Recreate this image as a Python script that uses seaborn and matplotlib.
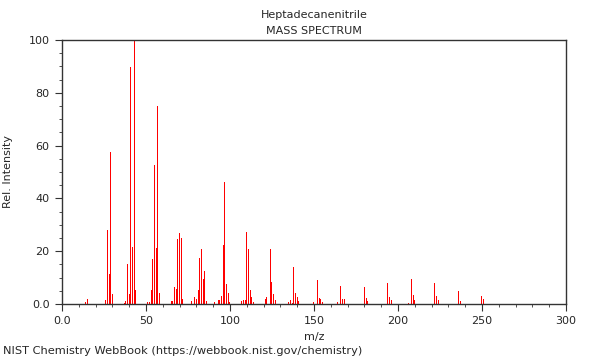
import matplotlib
matplotlib.use("Agg")
import matplotlib.pyplot as plt
import seaborn as sns
from matplotlib.ticker import MultipleLocator

# Peaks (m/z, relative intensity)
mz = [14, 15, 26, 27, 28, 29, 30, 37, 38, 39, 40, 41, 42, 43, 44,
      51, 52, 53, 54, 55, 56, 57, 58, 65, 66, 67, 68, 69, 70, 71, 72,
      77, 79, 80, 81, 82, 83, 84, 85, 86, 91, 93, 94, 95, 96, 97, 98, 99, 100,
      107, 108, 109, 110, 111, 112, 113, 114, 121, 122, 124, 125, 126, 127,
      135, 136, 137, 138, 139, 140, 141, 150, 152, 153, 154, 155,
      164, 166, 167, 168, 180, 181, 182, 194, 195, 196,
      206, 208, 209, 210, 222, 223, 224, 236, 237, 250, 251]
intensity = [0.6, 2.0, 1.5, 28.0, 11.4, 57.7, 3.8, 0.5, 1.0, 15.2, 3.8, 89.6, 21.6, 100.0, 5.3,
             0.8, 0.8, 5.3, 17.0, 52.8, 21.2, 75.0, 4.3, 1.0, 1.2, 6.6, 5.8, 24.6, 26.8, 25.1, 1.8,
             1.0, 2.8, 1.8, 5.3, 17.5, 21.0, 9.6, 12.6, 1.0, 0.8, 1.5, 1.5, 3.0, 22.2, 46.3, 7.4, 4.3, 0.8,
             1.0, 1.6, 1.5, 27.3, 21.0, 5.3, 2.8, 0.8, 1.7, 2.8, 20.7, 8.3, 3.7, 1.6,
             0.9, 1.5, 0.5, 14.0, 4.3, 2.7, 1.0, 0.7, 9.0, 2.3, 2.0, 0.7,
             0.8, 7.0, 2.0, 1.7, 6.4, 2.3, 1.2, 8.0, 2.8, 1.5,
             0.3, 9.5, 3.4, 1.4, 8.0, 3.0, 1.4, 5.0, 1.2, 3.0, 1.8]

xtick_vals = [0, 50, 100, 150, 200, 250, 300]
xtick_text = ["0.0", "50", "100", "150", "200", "250", "300"]
ytick_vals = [0, 20, 40, 60, 80, 100]
ytick_text = ["0.0", "20", "40", "60", "80", "100"]

sns.set_style("ticks")
plt.rcParams["font.family"] = ["DejaVu Sans"]
plt.rcParams["font.size"] = 8

fig, ax = plt.subplots(figsize=(6, 3.6), dpi=100)
fig.subplots_adjust(left=0.1033, right=0.9433, top=0.8889, bottom=0.1556)

sns.barplot(x=mz, y=intensity, native_scale=True, color="red",
            width=0.6, linewidth=0, saturation=1, ax=ax)

ax.set_xlim(0, 300)
ax.set_ylim(0, 100)
ax.set_xticks(xtick_vals)
ax.set_xticklabels(xtick_text)
ax.set_yticks(ytick_vals)
ax.set_yticklabels(ytick_text)
ax.xaxis.set_minor_locator(MultipleLocator(10))
ax.yaxis.set_minor_locator(MultipleLocator(5))
ax.tick_params(which="both", direction="out", labelsize=8, color="#333333")
ax.tick_params(which="major", length=5, pad=4)
ax.tick_params(which="minor", length=2)
for s in ax.spines.values():
    s.set_visible(True)
    s.set_color("#333333")
    s.set_linewidth(1)

ax.set_xlabel("m/z", fontsize=8)
ax.set_ylabel("Rel. Intensity", fontsize=8, labelpad=11)
ax.set_title("Heptadecanenitrile\nMASS SPECTRUM", fontsize=8, linespacing=1.85, pad=4)

fig.text(0.005, 0.018, "NIST Chemistry WebBook (https://webbook.nist.gov/chemistry)", fontsize=8.2)

fig.savefig("out.png", dpi=100)
